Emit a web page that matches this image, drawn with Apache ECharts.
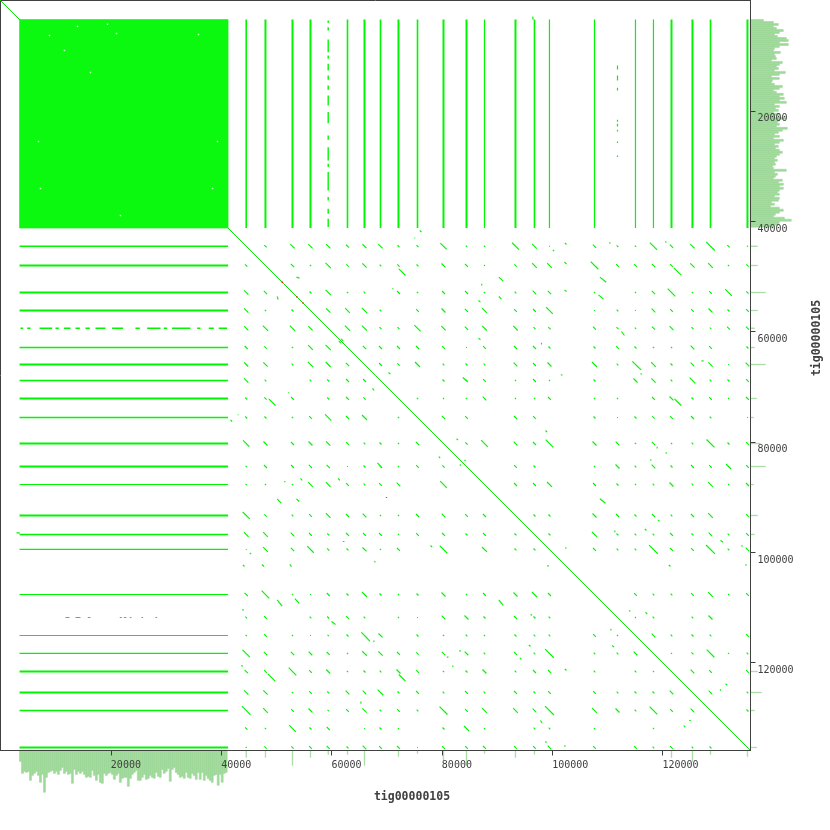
<!DOCTYPE html>
<html>
<head>
<meta charset="utf-8">
<style>html,body{margin:0;padding:0;background:#fff}#c{width:830px;height:830px}</style>
<script src="https://cdn.jsdelivr.net/npm/echarts@6/dist/echarts.min.js"></script>
</head>
<body>
<div id="c"></div>
<script>
const seqName = 'tig00000105';
const seqLength = 135950;
const tickValues = [20000, 40000, 60000, 80000, 100000, 120000];

// the large repeat-rich block
const blockStart = 3450;
const blockEnd = 41250;

// start of each copy of the repeat along the sequence
const repeatPos = [44540,48030,52930,56190,59400,62900,65980,68880,72140,75590,80300,84470,87730,93350,96790,99510,107670,111840,115100,118360,121630,125430,128700,131960,135400];

// copies hitting the block, grouped by how dense the hits are (indexes into repeatPos)
const denseCopies = [1,2,3,6,8,10,11,13,20,21,24];
const mediumCopies = [0,5,7,9,14,22];
const thinCopies = [12,15,16,18,19];

// copies with only partial hits on the block: start,end pairs
const copy4Hits = [[3620,4100],[4830,5440],[7070,9360],[9970,10570],[11480,12690],[13590,14380],[15400,16190],[17210,19030],[20230,22230],[24460,25250],[26580,29000],[29600,30200],[31100,34430],[35640,36240],[37750,38660],[39560,41070]];
const copy17Hits = [[11780,12500],[13590,14500],[15820,16310],[21620,21990],[22350,22830],[23440,23740],[25550,25850],[28090,28390]];

// match length (bp) between copy i and each later copy j>i
const matchLengths = [
 [420,780,780,780,540,720,780,360,360,1140,240,240,1260,840,120,600,300,240,1320,600,780,1560,420,180],
 [600,240,960,420,780,300,420,360,720,540,180,420,840,840,1380,480,480,600,480,780,840,240,420],
 [360,960,240,300,0,540,240,540,540,240,300,660,600,180,0,180,600,1380,240,480,1200,420],
 [780,840,960,300,0,480,720,600,840,480,540,1200,120,300,120,660,480,480,720,360,480],
 [960,900,360,360,1140,780,600,840,840,360,420,540,360,240,540,720,360,240,540,540],
 [600,540,540,540,480,120,480,540,540,360,360,480,360,240,240,660,480,0,360],
 [540,420,900,300,360,300,660,540,720,900,300,1140,840,360,660,780,120,660],
 [0,0,360,360,480,180,540,180,360,0,720,780,300,1020,300,360,480],
 [240,180,240,660,180,180,540,180,180,0,540,720,360,480,180,540],
 [600,480,0,540,480,0,360,120,360,420,480,540,300,0,120],
 [420,1200,660,540,1380,720,660,240,600,240,300,1440,360,480],
 [0,480,360,0,180,720,300,660,360,540,480,900,480],
 [540,540,900,540,360,180,300,720,300,840,180,540],
 [360,360,720,540,360,540,300,540,840,0,480],
 [360,900,360,300,300,540,360,660,300,480],
 [540,300,300,1560,540,480,1620,300,660],
 [0,480,300,300,480,840,180,480],
 [180,300,0,300,720,0,0],
 [660,300,360,300,0,480],
 [180,360,1380,180,300],
 [660,480,0,480],
 [660,0,300],
 [0,360],
 [0]
];

// other matches off the repeat grid: x1,y1,x2,y2 (x>y side, mirrored when drawn)
const otherMatches = [
 [72200,48640,73410,49850],[53650,50150,54200,50330],[71110,52140,71110,52320],[61750,61330,62110,61690],
 [70330,67430,70690,67730],[86640,54380,87000,54680],[87230,51360,87230,51660],[86640,61200,87000,61500],
 [75040,43020,75150,43100],[76010,41690,76310,41990],[83260,68330,83360,68400],[83800,68330,84710,69180],
 [82660,79450,82960,79690],[83380,78550,83480,78620],[83800,77460,83900,77530],[83620,79270,83720,79340],
 [84100,83260,84300,83490],[100120,45190,100360,45440],[110450,43800,110450,44100],[120600,43620,120600,43930],
 [102300,43930,102600,44230],[102230,47370,102600,47790],[102230,52450,102600,52750],[90330,50150,91120,50870],
 [90330,53650,90810,54140],[108640,50150,109790,51060],[108400,53350,109300,54140],[122050,48460,123380,49790],
 [112560,60000,113100,60720],[98060,62050,98060,62350],[100120,64230,100220,64300],[101570,67850,101870,67880],
 [115160,66040,116130,66950],[116010,67670,116310,67700],[116430,71290,116530,71360],[122170,72200,123380,73410],
 [127060,65320,127490,65350],[127490,64770,127590,64840],[98790,77940,99090,78240],[113710,75100,113810,75170],
 [119030,80900,119030,81200],[120540,81990,120840,82020],[117880,83140,117880,83440],[131290,82540,131390,82610],
 [108640,90330,109660,91120],[119150,94140,119450,94380],[116790,95770,117100,96070],[111360,96070,111360,96370],
 [130510,97880,131000,98190],[134260,98850,134560,98880],[134980,102290,135280,102320],[102480,99090,102480,99390],
 [121140,102290,121450,102600],[113900,110630,114200,110660],[116920,110870,117220,111230],[117520,113710,117620,113780],
 [130510,124830,130510,125130],[131420,123860,131720,124100],[127670,112200,127770,112270],[96500,2900,96500,3500]
];

// the few reverse-strand matches
const reverseMatches = [[51000,51000,51160,51160],[53650,53650,53790,53790],[54740,54740,54880,54880],[69970,90030,69970,90170]];

// small gaps inside the block
const blockGaps = [[13950,4700],[8880,6340],[21030,5980],[35890,6160],[11600,9060],[19400,4300],[6890,25560],[39330,25560],[7250,34080],[38430,34080],[16310,13050],[21750,38970]];

// read coverage in the block, one value per bin, along each edge
const covBinStart = 3440;
const covBinSize = 362;
const covBottom = [11,23,21,22,21,30,25,23,21,25,32,24,42,27,22,21,20,23,21,24,20,17,23,21,24,23,33,19,24,21,23,21,24,27,26,27,20,25,30,24,32,33,23,25,23,22,24,29,25,23,32,28,27,27,36,28,24,22,20,30,30,27,24,29,28,25,27,28,22,26,27,19,23,21,18,31,19,17,22,24,27,26,28,22,27,28,23,25,29,22,29,22,30,25,28,30,32,25,24,35,24,32,23,22];
const covRight = [13,23,28,23,26,33,29,24,27,36,38,29,38,29,24,23,30,24,25,26,21,32,29,26,28,24,35,29,21,29,22,21,24,32,29,23,26,33,29,34,29,36,24,29,25,28,23,29,24,35,29,27,29,26,37,32,28,24,29,23,33,29,24,28,25,29,32,29,26,24,27,24,25,22,23,36,24,27,25,23,32,28,33,29,33,29,27,29,24,29,28,21,24,20,29,33,29,25,23,34,41,29,28,23];

// read coverage spikes at the repeat copies
const spikeCopies = [0,1,2,3,4,5,6,8,9,10,11,12,13,14,20,21,22,24];
const spikeDepths = [7,7,15,7,4,4,15,6,3,10,15,3,7,4,7,11,4,6];
const spikeWidth = 180;

const covMax = 80;

function pathOf(segs){
  const out = [];
  segs.forEach(s => { out.push([s[0],s[1]],[s[2],s[3]],['-','-']); });
  return out;
}
function bandSegs(indexes){
  const out = [];
  indexes.forEach(k => {
    out.push([repeatPos[k],blockStart,repeatPos[k],blockEnd]);
    out.push([blockStart,repeatPos[k],blockEnd,repeatPos[k]]);
  });
  return out;
}
function hitSegs(k, hits){
  const out = [];
  hits.forEach(h => {
    out.push([repeatPos[k],h[0],repeatPos[k],h[1]]);
    out.push([h[0],repeatPos[k],h[1],repeatPos[k]]);
  });
  return out;
}
const matchSegs = [];
matchLengths.forEach((row,i) => row.forEach((len,n) => {
  if(!len) return;
  const j = i+1+n, a = repeatPos[j], b = repeatPos[i], h = len/2;
  matchSegs.push([a-h,b-h,a+h,b+h],[b-h,a-h,b+h,a+h]);
}));
otherMatches.forEach(s => {
  matchSegs.push(s,[s[1],s[0],s[3],s[2]]);
});

const GREEN = '#00f500';
const HIST = '#9fd89a';
const INK = '#404040';
const MONO = '"DejaVu Sans Mono", monospace';

function lineSeries(segs, width, color, extra){
  return Object.assign({
    type:'line', xAxisIndex:0, yAxisIndex:0, data:pathOf(segs), showSymbol:false, symbol:'none',
    connectNulls:false, silent:true, animation:false, z:3,
    lineStyle:{color:color||GREEN, width:width, cap:'butt'}
  }, extra||{});
}
function rectItem(params, api){
  const p0 = api.coord([api.value(0),api.value(1)]);
  const p1 = api.coord([api.value(2),api.value(3)]);
  return {type:'rect', shape:{x:Math.min(p0[0],p1[0]),y:Math.min(p0[1],p1[1]),width:Math.abs(p1[0]-p0[0]),height:Math.abs(p1[1]-p0[1])},
          style:{fill:api.visual('color'),stroke:api.visual('color'),lineWidth:0.6}};
}
function rects(data,xi,yi,color,z){
  return {type:'custom',xAxisIndex:xi,yAxisIndex:yi,data:data,renderItem:rectItem,silent:true,animation:false,z:z,
          clip:false,itemStyle:{color:color},encode:{x:[0,2],y:[1,3]}};
}
const bottomBars = covBottom.map((v,i)=>[covBinStart+i*covBinSize,0,covBinStart+(i+1)*covBinSize,v]);
const rightBars = covRight.map((v,i)=>[0,covBinStart+i*covBinSize,v,covBinStart+(i+1)*covBinSize]);
spikeCopies.forEach((k,i)=>{
  bottomBars.push([repeatPos[k]-spikeWidth/4,0,repeatPos[k]+spikeWidth/4,spikeDepths[i]]);
  rightBars.push([0,repeatPos[k]-spikeWidth/4,spikeDepths[i],repeatPos[k]+spikeWidth/4]);
});

const chart = echarts.init(document.getElementById('c'),null,{renderer:'canvas'});
chart.setOption({
  animation:false,
  backgroundColor:'#fff',
  grid:[
    {left:0.5,top:0.5,width:750,height:750,show:true,borderColor:INK,borderWidth:1,backgroundColor:'transparent',z:1},
    {left:0.5,top:750.5,width:750,height:covMax},
    {left:750.5,top:0.5,width:covMax,height:750}
  ],
  xAxis:[
    {gridIndex:0,type:'value',min:0,max:seqLength,position:'bottom',z:10,splitLine:{show:false},
     axisLine:{show:true,onZero:false,lineStyle:{color:INK,width:1}},
     axisTick:{show:true,length:5,customValues:tickValues,lineStyle:{color:INK,width:1}},
     axisLabel:{customValues:tickValues,align:'left',verticalAlign:'top',margin:10,color:INK,fontFamily:MONO,fontSize:10,formatter:v=>String(v)}},
    {gridIndex:1,type:'value',min:0,max:seqLength,show:false},
    {gridIndex:2,type:'value',min:0,max:covMax,show:false}
  ],
  yAxis:[
    {gridIndex:0,type:'value',min:0,max:seqLength,inverse:true,position:'right',z:10,splitLine:{show:false},
     axisLine:{show:true,onZero:false,lineStyle:{color:INK,width:1}},
     axisTick:{show:true,length:5,customValues:tickValues,lineStyle:{color:INK,width:1}},
     axisLabel:{customValues:tickValues,align:'left',verticalAlign:'top',margin:7,padding:[3,0,0,0],color:INK,fontFamily:MONO,fontSize:10,formatter:v=>String(v)}},
    {gridIndex:1,type:'value',min:0,max:covMax,inverse:true,show:false},
    {gridIndex:2,type:'value',min:0,max:seqLength,inverse:true,show:false}
  ],
  series:[
    rects([[blockStart,blockStart,blockEnd,blockEnd]],0,0,'#0bf90f',3),
    rects(bottomBars,1,1,HIST,0),
    rects(rightBars,2,2,HIST,0),
    {type:'scatter',xAxisIndex:0,yAxisIndex:0,data:blockGaps,symbol:'rect',symbolSize:1.5,silent:true,animation:false,z:4,itemStyle:{color:'#fff'}},
    lineSeries(bandSegs(denseCopies),2,GREEN),
    lineSeries(bandSegs(mediumCopies),1.6,GREEN),
    lineSeries(bandSegs(thinCopies),1.2,GREEN),
    lineSeries(hitSegs(4,copy4Hits),1.4,GREEN),
    lineSeries(hitSegs(17,copy17Hits),1.2,GREEN),
    lineSeries(matchSegs,1.15,GREEN),
    lineSeries([[0,0,seqLength,seqLength]],1,'#00e800',{z:2}),
    lineSeries(reverseMatches,1.5,'#ff0000',{z:5})
  ],
  graphic:[
    {type:'text',x:412,y:797,silent:true,z:20,style:{text:seqName,fill:INK,font:'bold 11.5px '+MONO,textAlign:'center',textVerticalAlign:'middle'}},
    {type:'text',x:817,y:338,rotation:Math.PI/2,silent:true,z:20,style:{text:seqName,fill:INK,font:'bold 11.5px '+MONO,textAlign:'center',textVerticalAlign:'middle'}}
  ]
});
</script>
</body>
</html>
